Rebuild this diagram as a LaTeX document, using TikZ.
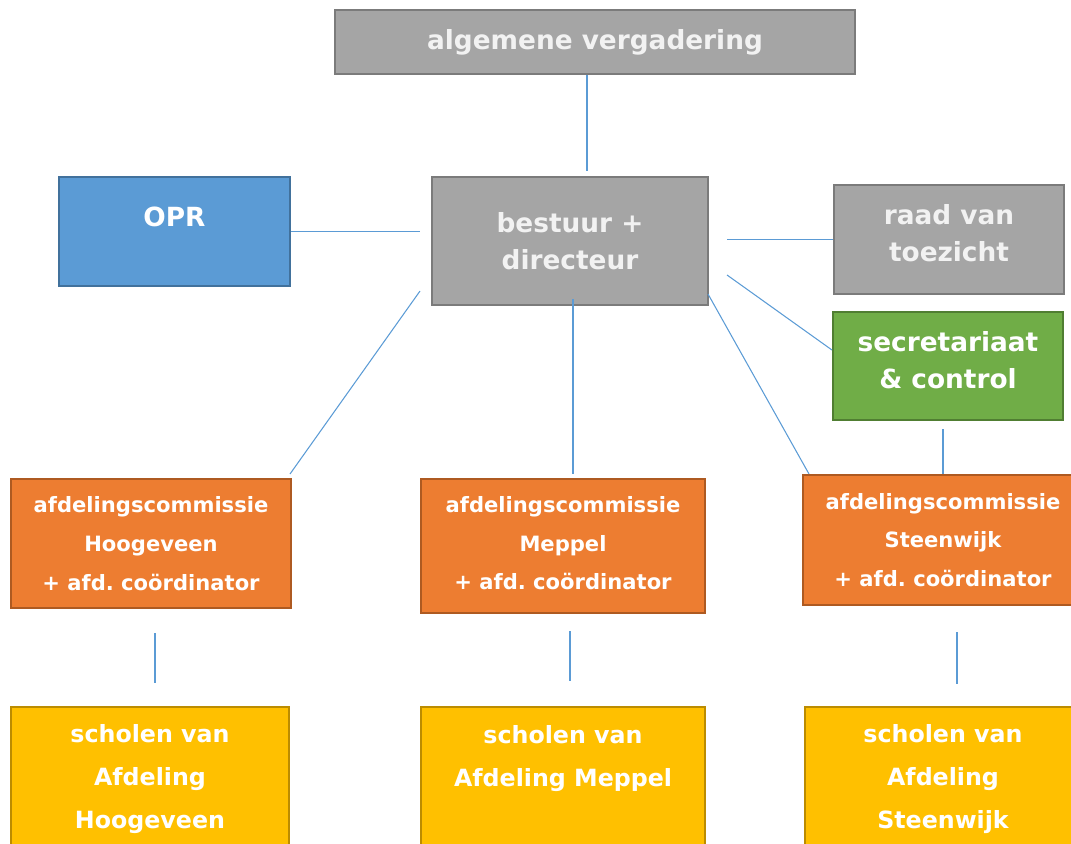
\documentclass[tikz,border=0pt]{standalone}
\usepackage{fontspec}
\setmainfont{DejaVu Sans}
\frenchspacing
\definecolor{grijs}{HTML}{A5A5A5}
\definecolor{grijsrand}{HTML}{7B7B7B}
\definecolor{blauw}{HTML}{5B9BD5}
\definecolor{blauwrand}{HTML}{41719C}
\definecolor{groen}{HTML}{70AD47}
\definecolor{groenrand}{HTML}{507E32}
\definecolor{oranje}{HTML}{ED7D31}
\definecolor{oranjerand}{HTML}{AE5A21}
\definecolor{geel}{HTML}{FFC000}
\definecolor{geelrand}{HTML}{BC8C00}
\definecolor{lijn}{HTML}{5B9BD5}
\definecolor{bijnawit}{HTML}{F2F2F2}
\begin{document}
\begin{tikzpicture}[x=0.02cm,y=-0.02cm]
\tikzstyle{every node}=[draw,line width=1.2pt,align=center,text=white,font=\bfseries\fontsize{15}{21}\selectfont]
\tikzstyle{grijsbox}=[fill=grijs,draw=grijsrand,text=bijnawit]
\tikzstyle{afdbox}=[fill=oranje,draw=oranjerand,font=\bfseries\fontsize{12}{22}\selectfont]
\tikzstyle{schoolbox}=[fill=geel,draw=geelrand,font=\bfseries\fontsize{13.5}{24.5}\selectfont]
\tikzstyle{lift}=[text depth=#1]
\tikzstyle{link}=[draw=lijn,line width=0.6pt]
\useasboundingbox (0,0) rectangle (1071,843);
% bovenste lagen
\node[grijsbox,minimum width=10.4cm,minimum height=1.28cm](av) at (595,42) {algemene vergadering};
\node[fill=blauw,draw=blauwrand,minimum width=4.62cm,minimum height=2.18cm,lift=17pt](opr) at (174.5,231.5) {OPR};
\node[grijsbox,minimum width=5.52cm,minimum height=2.56cm](bes) at (570,241) {bestuur +\\directeur};
\node[grijsbox,minimum width=4.6cm,minimum height=2.18cm,lift=7.4pt](rvt) at (949,239.5) {raad van\\toezicht};
\node[fill=groen,draw=groenrand,minimum width=4.6cm,minimum height=2.16cm,lift=6.8pt](sec) at (948,366) {secretariaat\\\& control};
% afdelingen
\node[afdbox,minimum width=5.6cm,minimum height=2.58cm](afH) at (151,543.5) {afdelingscommissie\\Hoogeveen\\+ afd. coördinator};
\node[afdbox,minimum width=5.68cm,minimum height=2.68cm,lift=3.4pt](afM) at (563,546) {afdelingscommissie\\Meppel\\+ afd. coördinator};
\node[afdbox,minimum width=5.6cm,minimum height=2.6cm](afS) at (943,540) {afdelingscommissie\\Steenwijk\\+ afd. coördinator};
% scholen
\node[schoolbox,minimum width=5.56cm,minimum height=3.06cm,lift=8.2pt](scH) at (150,783.5) {scholen van\\Afdeling\\Hoogeveen};
\node[schoolbox,minimum width=5.68cm,minimum height=3.06cm,lift=31pt](scM) at (563,783.5) {scholen van\\Afdeling Meppel};
\node[schoolbox,minimum width=5.52cm,minimum height=3.06cm,lift=8.3pt](scS) at (943,783.5) {scholen van\\Afdeling\\Steenwijk};
% verbindingen
\draw[link,shorten >=0.1cm] ([xshift=-0.16cm]av.south) -- ([xshift=-0.16cm]av.south |- bes.north);
\draw[link,shorten >=0.22cm] (opr.east) -- (opr.east -| bes.west);
\draw[link,shorten <=0.36cm] (bes.east |- rvt.west) -- (rvt.west);
\draw[link] ([xshift=0.36cm,yshift=-0.68cm]bes.east) -- ([yshift=0.32cm]sec.west);
\draw[link] ([xshift=-0.22cm,yshift=0.3cm]bes.south west) -- ([xshift=-0.04cm,yshift=0.08cm]afH.north east);
\draw[link,shorten >=0.08cm] ([xshift=0.06cm,yshift=0.14cm]bes.south) -- ([xshift=0.06cm]bes.south |- afM.north);
\draw[link] ([xshift=-0.02cm,yshift=0.24cm]bes.south east) -- ([xshift=0.14cm]afS.north west);
\draw[link,shorten <=0.16cm] (afS.north |- sec.south) -- (afS.north);
\draw[link,shorten <=0.48cm,shorten >=0.46cm] ([xshift=0.08cm]afH.south) -- ([xshift=0.08cm]afH.south |- scH.north);
\draw[link,shorten <=0.34cm,shorten >=0.5cm] ([xshift=0.14cm]afM.south) -- ([xshift=0.14cm]afM.south |- scM.north);
\draw[link,shorten <=0.52cm,shorten >=0.44cm] ([xshift=0.28cm]afS.south) -- ([xshift=0.28cm]afS.south |- scS.north);
\end{tikzpicture}
\end{document}
